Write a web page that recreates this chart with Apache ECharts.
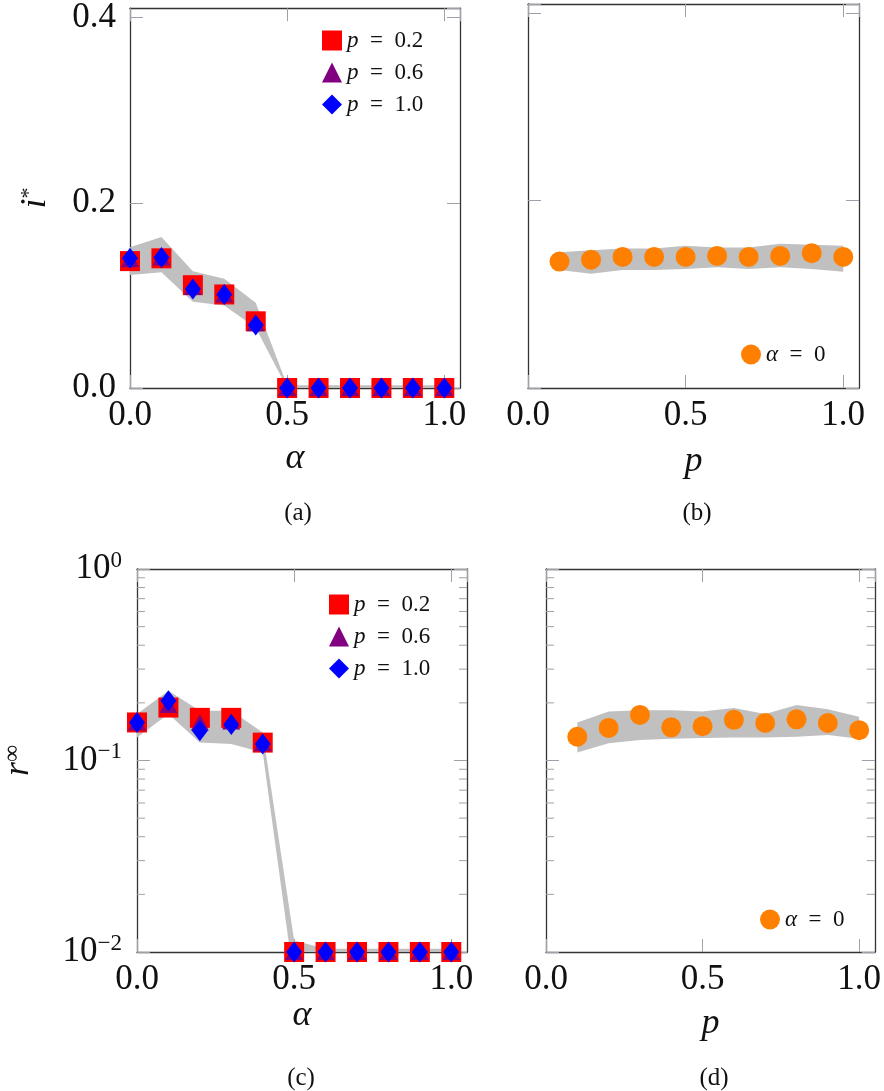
<!DOCTYPE html>
<html>
<head>
<meta charset="utf-8">
<script src="https://cdn.jsdelivr.net/npm/echarts@6/dist/echarts.min.js"></script>
<style>html,body{margin:0;padding:0;background:#fff;}#c{width:884px;height:1091px;}</style>
</head>
<body>
<div id="c"></div>
<script>
// ---------- data ----------
const alphaVals = [0.0, 0.1, 0.2, 0.3, 0.4, 0.5, 0.6, 0.7, 0.8, 0.9, 1.0];
const pVals = [0.1, 0.2, 0.3, 0.4, 0.5, 0.6, 0.7, 0.8, 0.9, 1.0];
const seriesNames = ['p = 0.2', 'p = 0.6', 'p = 1.0'];
const alphaZeroName = 'α = 0';

// panel (a): i* vs alpha
const a_p02 = [0.137, 0.140, 0.111, 0.101, 0.072, 0, 0, 0, 0, 0, 0];
const a_p06 = [0.139, 0.141, 0.109, 0.101, 0.070, 0, 0, 0, 0, 0, 0];
const a_p10 = [0.140, 0.141, 0.107, 0.101, 0.068, 0, 0, 0, 0, 0, 0];
const a_bandUpper = [0.152, 0.163, 0.126, 0.118, 0.092, 0.003, 0.003, 0.003, 0.003, 0.003, 0.003];
const a_bandLower = [0.122, 0.125, 0.093, 0.089, 0.065, 0, 0, 0, 0, 0, 0];

// panel (b): i* vs p, alpha = 0
const b_alpha0 = [0.135, 0.137, 0.140, 0.140, 0.140, 0.141, 0.140, 0.141, 0.144, 0.140];
const b_bandUpper = [0.145, 0.147, 0.149, 0.149, 0.152, 0.150, 0.150, 0.154, 0.153, 0.152];
const b_bandLower = [0.126, 0.122, 0.126, 0.126, 0.127, 0.129, 0.127, 0.129, 0.127, 0.124];

// panel (c): r_inf vs alpha (log)
const c_p02 = [0.158, 0.189, 0.167, 0.167, 0.124, 0.01, 0.01, 0.01, 0.01, 0.01, 0.01];
const c_p06 = [0.158, 0.195, 0.158, 0.160, 0.123, 0.01, 0.01, 0.01, 0.01, 0.01, 0.01];
const c_p10 = [0.158, 0.205, 0.143, 0.154, 0.122, 0.01, 0.01, 0.01, 0.01, 0.01, 0.01];
const c_bandUpper = [0.175, 0.231, 0.182, 0.182, 0.140, 0.0115, 0.0104, 0.0104, 0.0104, 0.0104, 0.0104];
const c_bandLower = [0.132, 0.175, 0.124, 0.122, 0.110, 0.007, 0.0099, 0.0099, 0.0099, 0.0099, 0.0099];

// panel (d): r_inf vs p, alpha = 0 (log)
const d_alpha0 = [0.133, 0.148, 0.173, 0.149, 0.151, 0.163, 0.157, 0.164, 0.157, 0.144];
const d_bandUpper = [0.158, 0.180, 0.183, 0.183, 0.180, 0.188, 0.175, 0.195, 0.185, 0.169];
const d_bandLower = [0.110, 0.123, 0.128, 0.130, 0.131, 0.132, 0.132, 0.133, 0.136, 0.130];

// axis ticks
const linYTicks = [0.0, 0.2, 0.4];
const xTickLabels = ['0.0', '0.5', '1.0'];
const logMinorTicks = [0.02, 0.03, 0.04, 0.05, 0.06, 0.07, 0.08, 0.09, 0.2, 0.3, 0.4, 0.5, 0.6, 0.7, 0.8, 0.9];
const captions = ['(a)', '(b)', '(c)', '(d)'];

// ---------- styling ----------
const FONT = 'Liberation Serif';
const AXIS_COLOR = '#333';
const TICK_COLOR = '#a0a0aa';
const BAND_COLOR = '#c0c0c0';
const COLORS = { p02: '#ff0000', p06: '#800080', p10: '#0000ff', orange: '#ff8000' };
const XMAX = 1.05;

const grids = [
  { left: 130, top: 4, width: 330, height: 384 },
  { left: 528, top: 4, width: 331, height: 384 },
  { left: 135, top: 569, width: 332, height: 383 },
  { left: 546, top: 569, width: 331, height: 383 }
];

const zip = (xs, ys) => xs.map((x, i) => [x, ys[i]]);

function xAxisBottom(g, name, gap) {
  return {
    type: 'value', gridIndex: g, position: 'bottom', min: 0, max: XMAX, interval: 0.5,
    axisLine: { show: true, onZero: false, lineStyle: { color: AXIS_COLOR, width: 1.3 } },
    axisTick: { show: true, inside: true, length: 13, lineStyle: { color: TICK_COLOR, width: 1 } },
    axisLabel: {
      show: true, margin: 10, showMaxLabel: false, color: '#111', fontFamily: FONT, fontSize: 35,
      formatter: v => xTickLabels[Math.round(v / 0.5)] || ''
    },
    splitLine: { show: false },
    name: name, nameLocation: 'middle', nameGap: gap,
    nameTextStyle: { fontFamily: FONT, fontSize: 36, fontStyle: 'italic', color: '#111' }
  };
}
function xAxisTop(g) {
  return {
    type: 'value', gridIndex: g, position: 'top', min: 0, max: XMAX, interval: 0.5,
    axisLine: { show: true, onZero: false, lineStyle: { color: AXIS_COLOR, width: 1.3 } },
    axisTick: { show: true, inside: true, length: 13, lineStyle: { color: TICK_COLOR, width: 1 } },
    axisLabel: { show: false }, splitLine: { show: false }
  };
}
function yLin(g, pos, showLabels, name, gap) {
  const ax = {
    type: 'value', gridIndex: g, position: pos, min: 0, max: 0.41, interval: 0.2,
    axisLine: { show: true, onZero: false, lineStyle: { color: AXIS_COLOR, width: 1.3 } },
    axisTick: { show: true, inside: true, length: 13, lineStyle: { color: TICK_COLOR, width: 1 } },
    axisLabel: {
      show: showLabels, margin: 14, showMaxLabel: false, color: '#111', fontFamily: FONT, fontSize: 35,
      formatter: v => { const i = linYTicks.findIndex(t => Math.abs(t - v) < 1e-6); return i >= 0 ? linYTicks[i].toFixed(1) : ''; }
    },
    splitLine: { show: false }
  };
  if (name) {
    ax.name = name; ax.nameLocation = 'middle'; ax.nameGap = gap;
    ax.nameTextStyle = {
      color: '#111', fontFamily: FONT,
      rich: {
        m: { fontFamily: FONT, fontSize: 36, fontStyle: 'italic', color: '#111', lineHeight: 36 },
        s: { fontFamily: FONT, fontSize: 22, color: '#111', verticalAlign: 'top', lineHeight: 36 }
      }
    };
  }
  return ax;
}
function yLog(g, pos, showLabels, name, gap) {
  const ax = {
    type: 'log', logBase: 10, gridIndex: g, position: pos, min: 0.01, max: 1,
    axisLine: { show: true, onZero: false, lineStyle: { color: AXIS_COLOR, width: 1.3 } },
    axisTick: { show: true, inside: true, length: 13, lineStyle: { color: TICK_COLOR, width: 1 } },
    axisLabel: {
      show: showLabels, margin: 15, color: '#111', fontFamily: FONT,
      formatter: v => { const e = Math.round(Math.log10(v)); return '{b|10}{s|' + (e < 0 ? '\u2212' : '') + Math.abs(e) + '}'; },
      rich: {
        b: { fontFamily: FONT, fontSize: 35, color: '#111', lineHeight: 40 },
        s: { fontFamily: FONT, fontSize: 23, color: '#111', verticalAlign: 'top', lineHeight: 40 }
      }
    },
    splitLine: { show: false }
  };
  if (name) {
    ax.name = name; ax.nameLocation = 'middle'; ax.nameGap = gap;
    ax.nameTextStyle = {
      color: '#111', fontFamily: FONT,
      rich: {
        m: { fontFamily: FONT, fontSize: 36, fontStyle: 'italic', color: '#111', lineHeight: 36 },
        s: { fontFamily: FONT, fontSize: 24, color: '#111', verticalAlign: 'top', lineHeight: 36 }
      }
    };
  }
  return ax;
}

function band(idx, xs, up, lo) {
  return {
    type: 'custom', xAxisIndex: idx, yAxisIndex: idx, silent: true, z: 1, clip: true,
    data: [[xs[0], up[0]]],
    renderItem: (params, api) => {
      const pts = [];
      for (let i = 0; i < xs.length; i++) pts.push(api.coord([xs[i], up[i]]));
      for (let i = xs.length - 1; i >= 0; i--) pts.push(api.coord([xs[i], lo[i]]));
      return { type: 'polygon', shape: { points: pts }, style: { fill: BAND_COLOR } };
    }
  };
}
function minorTicks(idx) {
  return {
    type: 'custom', xAxisIndex: idx, yAxisIndex: idx, silent: true, z: 2,
    data: [[0, 0.1]],
    renderItem: (params, api) => {
      const children = [];
      logMinorTicks.forEach(v => {
        const l = api.coord([0, v]); const r = api.coord([XMAX, v]);
        children.push({ type: 'line', shape: { x1: l[0], y1: l[1], x2: l[0] + 8, y2: l[1] }, style: { stroke: TICK_COLOR, lineWidth: 1 } });
        children.push({ type: 'line', shape: { x1: r[0], y1: r[1], x2: r[0] - 8, y2: r[1] }, style: { stroke: TICK_COLOR, lineWidth: 1 } });
      });
      return { type: 'group', children };
    }
  };
}
function scatter(idx, name, xs, ys, symbol, size, color) {
  return {
    type: 'scatter', name, xAxisIndex: idx, yAxisIndex: idx, data: zip(xs, ys),
    symbol, symbolSize: size, clip: false, z: 3,
    itemStyle: { color, opacity: 1 }
  };
}

const legendRich = {
  i: { fontFamily: FONT, fontSize: 23, fontStyle: 'italic', color: '#111' },
  n: { fontFamily: FONT, fontSize: 23, color: '#111' }
};
const legendFmt = name => { const parts = name.split(' = '); return '{i|' + parts[0] + '}{n|\u2002=\u2002' + parts[1] + '}'; };
function pLegend(left, top) {
  return {
    left, top, padding: 0, orient: 'vertical', itemWidth: 20, itemHeight: 20, itemGap: 9, selectedMode: false,
    data: [
      { name: seriesNames[0], icon: 'rect' },
      { name: seriesNames[1], icon: 'triangle' },
      { name: seriesNames[2], icon: 'diamond' }
    ],
    formatter: legendFmt, textStyle: { fontFamily: FONT, fontSize: 23, rich: legendRich }, itemStyle: { borderWidth: 0 }
  };
}
function aLegend(left, top) {
  return {
    left, top, padding: 0, orient: 'vertical', itemWidth: 20, itemHeight: 20, selectedMode: false,
    data: [{ name: alphaZeroName, icon: 'circle' }],
    formatter: legendFmt, textStyle: { fontFamily: FONT, fontSize: 23, rich: legendRich }
  };
}

const option = {
  animation: false,
  backgroundColor: '#fff',
  textStyle: { fontFamily: FONT },
  grid: grids.map(g => Object.assign({ containLabel: false }, g)),
  xAxis: [
    xAxisBottom(0, 'α', 53), xAxisBottom(1, 'p', 56), xAxisBottom(2, 'α', 34), xAxisBottom(3, 'p', 54),
    xAxisTop(0), xAxisTop(1), xAxisTop(2), xAxisTop(3)
  ],
  yAxis: [
    yLin(0, 'left', true, '{m|i}{s|*}', 76), yLin(1, 'left', false),
    yLog(2, 'left', true, '{m|r}{s|∞}', 100), yLog(3, 'left', false),
    yLin(0, 'right', false), yLin(1, 'right', false), yLog(2, 'right', false), yLog(3, 'right', false)
  ],
  legend: [pLegend(322, 29), aLegend(741, 343), pLegend(329, 593), aLegend(760, 908)],
  series: [
    band(0, alphaVals, a_bandUpper, a_bandLower),
    scatter(0, seriesNames[0], alphaVals, a_p02, 'rect', 20, COLORS.p02),
    scatter(0, seriesNames[1], alphaVals, a_p06, 'triangle', [18, 16], COLORS.p06),
    scatter(0, seriesNames[2], alphaVals, a_p10, 'diamond', [16, 21], COLORS.p10),

    band(1, pVals, b_bandUpper, b_bandLower),
    scatter(1, alphaZeroName, pVals, b_alpha0, 'circle', 20, COLORS.orange),

    band(2, alphaVals, c_bandUpper, c_bandLower),
    minorTicks(2),
    scatter(2, seriesNames[0], alphaVals, c_p02, 'rect', 20, COLORS.p02),
    scatter(2, seriesNames[1], alphaVals, c_p06, 'triangle', [18, 16], COLORS.p06),
    scatter(2, seriesNames[2], alphaVals, c_p10, 'diamond', [16, 21], COLORS.p10),

    band(3, pVals, d_bandUpper, d_bandLower),
    minorTicks(3),
    scatter(3, alphaZeroName, pVals, d_alpha0, 'circle', 20, COLORS.orange)
  ],
  graphic: [
    { type: 'text', x: 298, y: 513, style: { text: captions[0], fontFamily: FONT, fontSize: 25, fill: '#111', textAlign: 'center', textVerticalAlign: 'middle' } },
    { type: 'text', x: 697, y: 513, style: { text: captions[1], fontFamily: FONT, fontSize: 25, fill: '#111', textAlign: 'center', textVerticalAlign: 'middle' } },
    { type: 'text', x: 301, y: 1078, style: { text: captions[2], fontFamily: FONT, fontSize: 25, fill: '#111', textAlign: 'center', textVerticalAlign: 'middle' } },
    { type: 'text', x: 714, y: 1078, style: { text: captions[3], fontFamily: FONT, fontSize: 25, fill: '#111', textAlign: 'center', textVerticalAlign: 'middle' } }
  ]
};

const chart = echarts.init(document.getElementById('c'), null, { renderer: 'canvas' });
chart.setOption(option);
</script>
</body>
</html>
